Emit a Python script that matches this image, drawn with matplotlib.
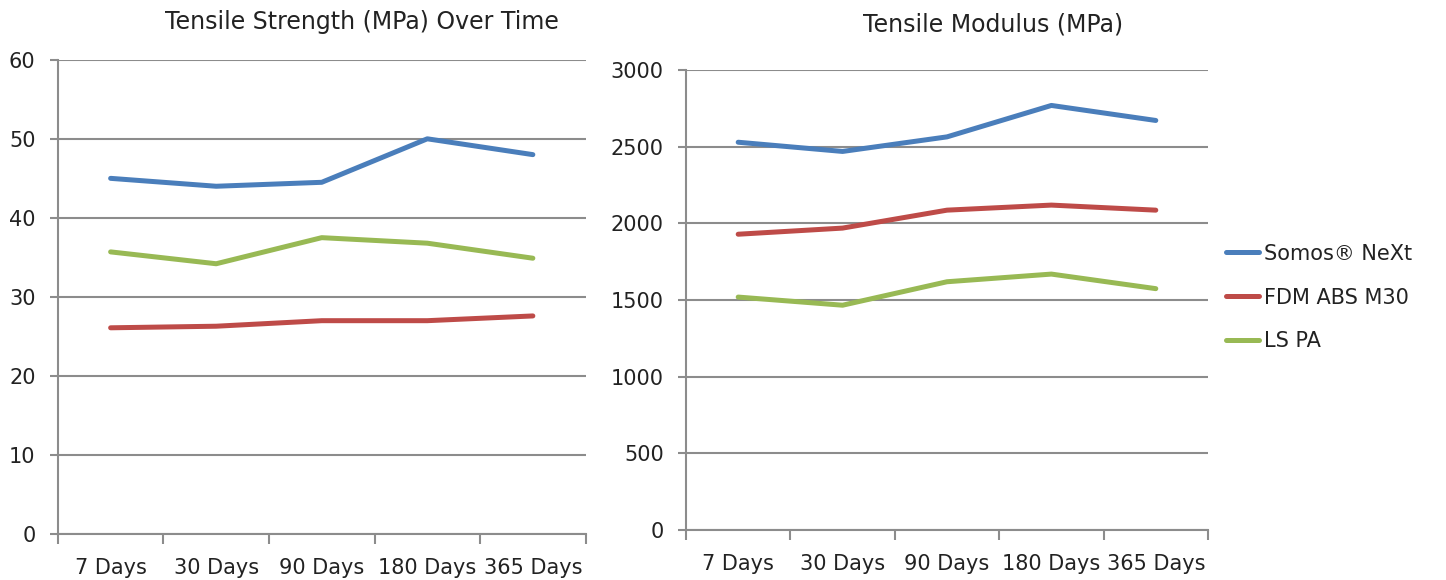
import matplotlib
matplotlib.use("Agg")
import matplotlib.pyplot as plt
import numpy as np

plt.rcParams['font.family'] = ['DejaVu Sans']

# data
periods = ["7 Days", "30 Days", "90 Days", "180 Days", "365 Days"]
series_names = ["Somos® NeXt", "FDM ABS M30", "LS PA"]
colors = ["#4A7EBB", "#BE4B48", "#98B954"]

strength_somos = [45.0, 44.0, 44.5, 50.0, 48.0]
strength_fdm = [26.1, 26.3, 27.0, 27.0, 27.6]
strength_lspa = [35.7, 34.2, 37.5, 36.8, 34.9]

modulus_somos = [2530, 2470, 2565, 2770, 2672]
modulus_fdm = [1930, 1970, 2087, 2120, 2087]
modulus_lspa = [1520, 1467, 1620, 1670, 1575]

grid_col = "#8c8c8c"
text_col = "#222222"

fig = plt.figure(figsize=(14.46, 5.8), dpi=100)
ax1 = fig.add_axes([0.040, 0.079, 0.365, 0.818])
ax2 = fig.add_axes([0.4744, 0.086, 0.361, 0.793])

x = np.arange(len(periods))


def style(ax, ymax, ystep, title, title_x, title_pad):
    ax.set_xlim(-0.5, len(periods) - 0.5)
    ax.set_ylim(0, ymax)
    ax.set_yticks(np.arange(0, ymax + 1, ystep))
    ax.yaxis.grid(True, color=grid_col, lw=1.5)
    ax.set_axisbelow(True)
    for s in ["top", "right"]:
        ax.spines[s].set_visible(False)
    for s in ["left", "bottom"]:
        ax.spines[s].set_color(grid_col)
        ax.spines[s].set_linewidth(1.5)
    # boundaries as major ticks, labels on minor ticks
    ax.set_xticks(np.arange(-0.5, len(periods), 1.0))
    ax.set_xticklabels([])
    ax.set_xticks(x, minor=True)
    ax.set_xticklabels(periods, minor=True)
    ax.tick_params(axis="x", which="major", length=7, width=1.5, color=grid_col)
    ax.tick_params(axis="x", which="minor", length=0, pad=17, labelsize=15, labelcolor=text_col)
    ax.tick_params(axis="y", length=6, width=1.5, color=grid_col, labelsize=15,
                   labelcolor=text_col, pad=10)
    ax.set_title(title, fontsize=17, color=text_col, pad=title_pad, x=title_x)


lw = 3.6
ax1.plot(x, strength_somos, color=colors[0], lw=lw, solid_capstyle="round")
ax1.plot(x, strength_fdm, color=colors[1], lw=lw, solid_capstyle="round")
ax1.plot(x, strength_lspa, color=colors[2], lw=lw, solid_capstyle="round")
style(ax1, 60, 10, "Tensile Strength (MPa) Over Time", 0.577, 22)

l1, = ax2.plot(x, modulus_somos, color=colors[0], lw=lw, solid_capstyle="round")
l2, = ax2.plot(x, modulus_fdm, color=colors[1], lw=lw, solid_capstyle="round")
l3, = ax2.plot(x, modulus_lspa, color=colors[2], lw=lw, solid_capstyle="round")
style(ax2, 3000, 500, "Tensile Modulus (MPa)", 0.588, 28)

fig.legend([l1, l2, l3], series_names, loc="center left", bbox_to_anchor=(0.835, 0.487),
           frameon=False, fontsize=15, handlelength=1.6, handletextpad=0.2,
           labelspacing=1.15, labelcolor=text_col)

fig.savefig("out.png", dpi=100)
